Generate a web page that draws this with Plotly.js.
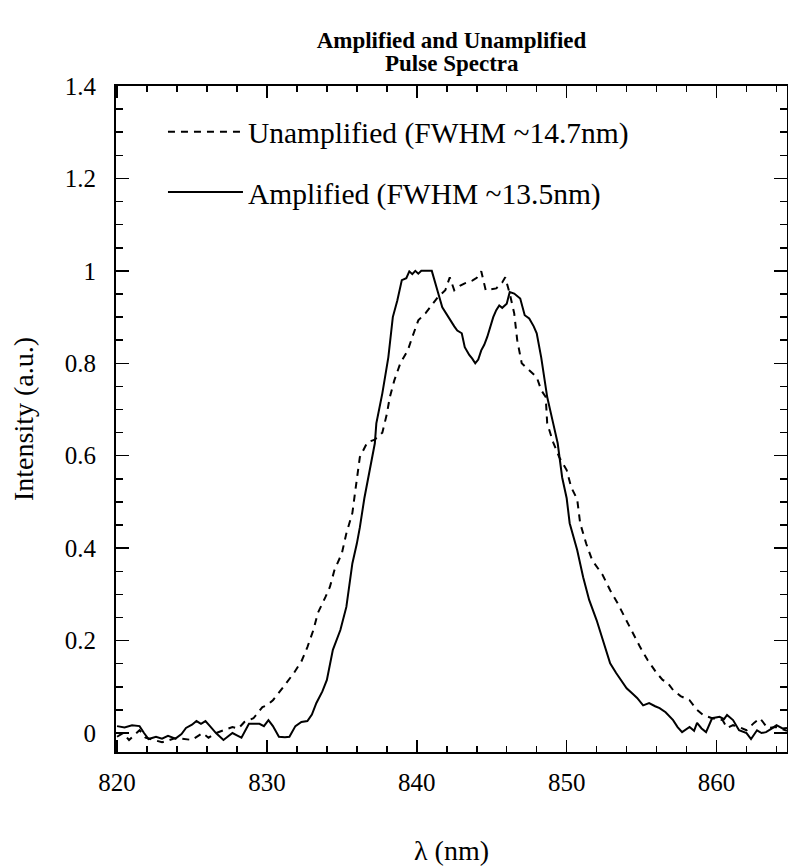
<!DOCTYPE html>
<html>
<head>
<meta charset="utf-8">
<script src="https://cdn.plot.ly/plotly-3.0.1.min.js"></script>
<style>
  html, body { margin: 0; padding: 0; background: #fff; }
  #chart { width: 788px; height: 866px; }
  #chart svg text { font-family: "Liberation Serif", serif !important; }
</style>
</head>
<body>
<div id="chart"></div>
<script>
// Wavelength (nm) and intensity (a.u.)
const ampWavelength = [
  820.0, 820.5, 821.0, 821.5, 821.8, 822.1, 822.6, 823.0, 823.4, 823.9,
  824.3, 824.6, 825.0, 825.3, 825.6, 825.9, 826.2, 826.6, 827.1, 827.4,
  827.7, 828.0, 828.3, 828.8, 829.2, 829.5, 829.8, 830.1, 830.4, 830.6,
  830.8, 831.2, 831.5, 831.9, 832.3, 832.7, 833.0, 833.3, 833.7, 834.0,
  834.2, 834.4, 834.9, 835.1, 835.3, 835.5, 835.7, 836.0, 836.2, 836.5,
  836.7, 836.9, 837.2, 837.3, 837.5, 837.7, 838.1, 838.4, 838.7, 839.0,
  839.3, 839.5, 839.7, 839.9, 840.1, 840.3, 841.0, 841.2, 841.4, 841.7,
  842.0, 842.2, 842.5, 842.7, 843.0, 843.2, 843.5, 843.7, 843.9, 844.1,
  844.2, 844.3, 844.5, 844.7, 845.1, 845.3, 845.5, 845.7, 846.0, 846.2,
  846.5, 846.7, 846.9, 847.2, 847.5, 847.8, 848.0, 848.3, 848.7, 849.1,
  849.4, 849.7, 850.0, 850.2, 850.7, 851.1, 851.5, 852.0, 852.4, 852.9,
  853.3, 853.7, 854.0, 854.4, 854.7, 855.1, 855.5, 855.9, 856.2, 856.6,
  856.9, 857.1, 857.4, 857.7, 858.2, 858.5, 858.7, 859.0, 859.3, 859.7,
  860.2, 860.5, 860.7, 861.1, 861.5, 862.0, 862.3, 862.7, 863.0, 863.3,
  863.7, 864.0, 864.4, 864.7
];
const ampIntensity = [
  0.015, 0.012, 0.017, 0.015, 0.000, -0.013, -0.008, -0.012, -0.006, -0.012,
  -0.002, 0.011, 0.018, 0.026, 0.020, 0.026, 0.015, 0.000, -0.015, -0.008,
  0.000, -0.005, -0.010, 0.020, 0.020, 0.020, 0.015, 0.028, 0.015, 0.002,
  -0.008, -0.009, -0.008, 0.015, 0.024, 0.026, 0.040, 0.065, 0.090, 0.115,
  0.150, 0.180, 0.223, 0.250, 0.273, 0.320, 0.367, 0.410, 0.445, 0.508,
  0.540, 0.575, 0.627, 0.670, 0.700, 0.735, 0.813, 0.900, 0.936, 0.980,
  0.984, 0.999, 0.993, 1.000, 0.994, 1.000, 1.000, 0.975, 0.955, 0.921,
  0.905, 0.897, 0.880, 0.871, 0.865, 0.835, 0.818, 0.810, 0.800, 0.808,
  0.820, 0.828, 0.840, 0.857, 0.900, 0.915, 0.925, 0.920, 0.929, 0.954,
  0.951, 0.945, 0.940, 0.904, 0.897, 0.880, 0.865, 0.813, 0.727, 0.670,
  0.627, 0.553, 0.508, 0.454, 0.396, 0.337, 0.288, 0.244, 0.201, 0.151,
  0.130, 0.110, 0.097, 0.085, 0.076, 0.060, 0.065, 0.058, 0.054, 0.045,
  0.035, 0.028, 0.013, 0.002, 0.013, 0.005, 0.022, 0.010, 0.002, 0.032,
  0.035, 0.030, 0.039, 0.028, 0.006, 0.000, -0.013, 0.006, 0.000, 0.002,
  0.010, 0.017, 0.010, 0.011
];

const unampWavelength = [
  820.0, 820.4, 820.8, 821.3, 821.5, 821.9, 822.4, 823.0, 823.5, 823.8,
  824.3, 825.0, 825.7, 826.1, 826.6, 827.1, 827.7, 828.1, 828.5, 829.1,
  829.7, 830.0, 830.4, 831.1, 831.8, 832.3, 832.7, 833.1, 833.4, 833.9,
  834.2, 834.5, 835.0, 835.3, 835.7, 835.9, 836.2, 836.7, 837.2, 837.7,
  838.0, 838.2, 838.5, 838.9, 839.4, 839.7, 840.1, 840.6, 841.0, 841.4,
  841.9, 842.2, 842.5, 842.9, 843.2, 843.7, 844.0, 844.3, 844.6, 845.0,
  845.3, 845.7, 845.9, 846.2, 846.5, 846.7, 847.0, 847.5, 848.0, 848.3,
  848.6, 848.7, 849.1, 849.5, 850.0, 850.3, 850.7, 850.9, 851.3, 851.7,
  852.4, 852.9, 853.4, 853.9, 854.4, 854.9, 855.4, 855.7, 856.0, 856.4,
  856.7, 857.1, 857.6, 858.2, 858.7, 859.1, 859.7, 860.4, 860.7, 861.1,
  861.5, 862.0, 862.5, 862.9, 863.4, 864.0, 864.7
];
const unampIntensity = [
  -0.008, 0.000, -0.015, 0.000, 0.006, -0.010, -0.015, -0.020, -0.015, -0.012,
  -0.012, -0.015, 0.000, -0.010, 0.000, 0.006, 0.013, 0.010, 0.024, 0.032,
  0.056, 0.060, 0.071, 0.100, 0.130, 0.155, 0.186, 0.223, 0.260, 0.294,
  0.316, 0.352, 0.389, 0.432, 0.476, 0.525, 0.597, 0.629, 0.635, 0.650,
  0.690, 0.727, 0.763, 0.800, 0.828, 0.857, 0.893, 0.909, 0.925, 0.943,
  0.958, 0.986, 0.958, 0.968, 0.973, 0.979, 0.985, 0.999, 0.958, 0.960,
  0.962, 0.975, 0.986, 0.951, 0.908, 0.850, 0.800, 0.785, 0.770, 0.742,
  0.727, 0.670, 0.629, 0.597, 0.569, 0.532, 0.506, 0.454, 0.410, 0.374,
  0.342, 0.309, 0.281, 0.249, 0.216, 0.186, 0.158, 0.143, 0.130, 0.115,
  0.110, 0.093, 0.080, 0.071, 0.050, 0.039, 0.032, 0.028, 0.011, 0.017,
  0.013, 0.006, 0.022, 0.032, 0.011, 0.013, 0.005
];

const seriesNames = ["Unamplified (FWHM ~14.7nm)", "Amplified (FWHM ~13.5nm)"];
const titleLine1 = "Amplified and Unamplified";
const titleLine2 = "Pulse Spectra";
const xTitle = "λ (nm)";
const yTitle = "Intensity (a.u.)";

const serif = "Liberation Serif";

const traces = [
  {
    x: unampWavelength, y: unampIntensity, type: "scatter", mode: "lines",
    name: seriesNames[0], legendgroup: "u",
    line: { color: "#000", width: 2, dash: "7px,6px" }
  },
  {
    x: ampWavelength, y: ampIntensity, type: "scatter", mode: "lines",
    name: seriesNames[1], legendgroup: "a",
    line: { color: "#000", width: 2 }
  }
];

const layout = {
  width: 788, height: 866,
  paper_bgcolor: "#fff", plot_bgcolor: "#fff",
  margin: { l: 116, r: 1, t: 86, b: 114 },
  font: { family: serif, color: "#000" },
  title: {
    text: titleLine1,
    font: { family: serif, size: 23, weight: "bold", color: "#000" },
    x: 0.5, xref: "paper", xanchor: "center",
    y: 1 - 40 / 866, yref: "container", yanchor: "middle"
  },
  annotations: [
    {
      text: titleLine2, showarrow: false,
      xref: "paper", yref: "paper", x: 0.5, y: 1 + (86 - 63) / 666,
      xanchor: "center", yanchor: "middle",
      font: { family: serif, size: 23, weight: "bold", color: "#000" }
    }
  ],
  showlegend: true,
  legend: {
    x: 0.07, y: 0.970, xanchor: "left", yanchor: "top",
    bgcolor: "rgba(0,0,0,0)", borderwidth: 0,
    font: { family: serif, size: 29.5, color: "#000" },
    itemwidth: 75, traceorder: "grouped", tracegroupgap: 19
  },
  xaxis: {
    range: [819.93, 864.7],
    showgrid: false, zeroline: false,
    showline: true, linecolor: "#000", linewidth: 2, mirror: "ticks",
    ticks: "inside", ticklen: 12, tickwidth: 1.5, tickcolor: "#000",
    tick0: 820, dtick: 10,
    minor: { ticks: "inside", ticklen: 6, tickwidth: 1.5, tickcolor: "#000", dtick: 2, showgrid: false },
    tickfont: { family: serif, size: 25, color: "#000" },
    ticklabelstandoff: 7,
    title: { text: xTitle, font: { family: serif, size: 28, color: "#000" }, standoff: 48 }
  },
  yaxis: {
    range: [-0.041, 1.4],
    showgrid: false, zeroline: false,
    showline: true, linecolor: "#000", linewidth: 2, mirror: "ticks",
    ticks: "inside", ticklen: 13, tickwidth: 1.5, tickcolor: "#000",
    tick0: 0, dtick: 0.2,
    minor: { ticks: "inside", ticklen: 7, tickwidth: 1.5, tickcolor: "#000", dtick: 0.05, showgrid: false },
    tickfont: { family: serif, size: 25, color: "#000" },
    ticklabelstandoff: 13,
    title: { text: yTitle, font: { family: serif, size: 28, color: "#000" }, standoff: 23 }
  }
};

Plotly.newPlot("chart", traces, layout, { displayModeBar: false, staticPlot: true });
</script>
</body>
</html>
